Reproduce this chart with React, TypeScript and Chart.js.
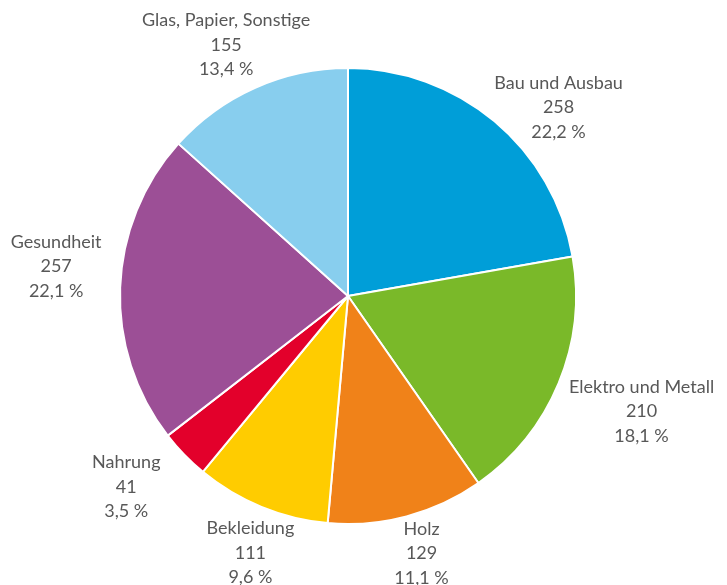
import React, { useEffect, useRef } from "react";
import { Chart, registerables } from "chart.js";

Chart.register(...registerables);

const categories: string[] = [
  "Bau und Ausbau",
  "Elektro und Metall",
  "Holz",
  "Bekleidung",
  "Nahrung",
  "Gesundheit",
  "Glas, Papier, Sonstige",
];
const values: number[] = [258, 210, 129, 111, 41, 257, 155];
const colors: string[] = [
  "#009ED8",
  "#7AB929",
  "#F08219",
  "#FFCC00",
  "#E3002B",
  "#9C4F96",
  "#88CEEE",
];
// label offsets (px) from the slice's outer rim midpoint
const labelOffsets: [number, number][] = [
  [64, -14],
  [83, 28],
  [15, 37],
  [-11, 46],
  [-58, 32],
  [-64, -21],
  [-29, -43],
];

const FONT = '18px Lato, "Open Sans", sans-serif';
const TEXT_COLOR = "#585858";
const LINE_H = 24.5;

const labelPlugin = {
  id: "outerLabels",
  afterDatasetsDraw(chart: any) {
    const ctx = chart.ctx as CanvasRenderingContext2D;
    const meta = chart.getDatasetMeta(0);
    const data = chart.data.datasets[0].data as number[];
    const total = data.reduce((a, b) => a + b, 0);
    ctx.save();
    ctx.font = FONT;
    ctx.fillStyle = TEXT_COLOR;
    ctx.textAlign = "center";
    ctx.textBaseline = "middle";
    meta.data.forEach((arc: any, i: number) => {
      const { x, y, startAngle, endAngle, outerRadius } = arc.getProps(
        ["x", "y", "startAngle", "endAngle", "outerRadius"],
        true
      );
      const mid = (startAngle + endAngle) / 2;
      const rx = x + Math.cos(mid) * outerRadius;
      const ry = y + Math.sin(mid) * outerRadius;
      const [ox, oy] = labelOffsets[i];
      const cx = rx + ox;
      const cy = ry + oy;
      const pct = ((data[i] / total) * 100).toFixed(1).replace(".", ",") + " %";
      const lines = [chart.data.labels[i], String(data[i]), pct];
      lines.forEach((t: string, k: number) => {
        ctx.fillText(t, cx, cy + (k - 1) * LINE_H);
      });
    });
    ctx.restore();
  },
};

export default function App() {
  const ref = useRef<HTMLCanvasElement | null>(null);
  useEffect(() => {
    document.body.style.margin = "0";
    if (!ref.current) return;
    const chart = new Chart(ref.current, {
      type: "pie",
      data: {
        labels: categories,
        datasets: [
          {
            data: values,
            backgroundColor: colors,
            borderColor: "#ffffff",
            borderWidth: 2,
          },
        ],
      },
      options: {
        animation: false,
        responsive: true,
        maintainAspectRatio: false,
        radius: 228,
        layout: { padding: { top: 68, bottom: 61, left: 120, right: 151 } },
        plugins: {
          legend: { display: false },
          tooltip: { enabled: false },
        },
      },
      plugins: [labelPlugin],
    });
    return () => chart.destroy();
  }, []);
  return (
    <div style={{ width: 727, height: 585, position: "relative" }}>
      <canvas ref={ref} />
    </div>
  );
}
